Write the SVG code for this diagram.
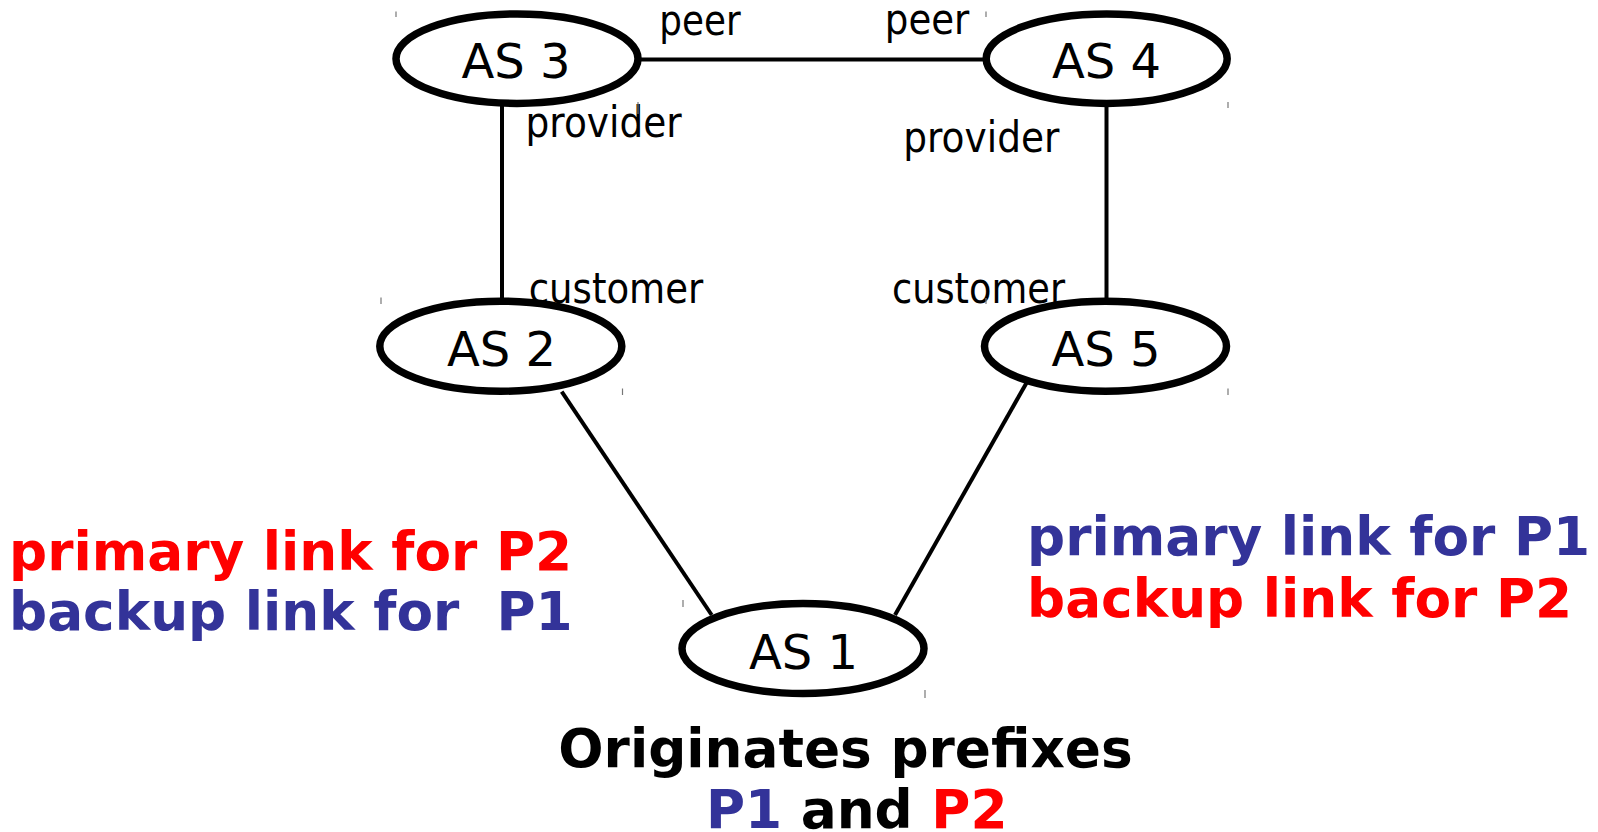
<svg xmlns="http://www.w3.org/2000/svg" width="1598" height="832" viewBox="0 0 1598 832">
  <style>
    .as { fill: #ffffff; stroke: #000000; stroke-width: 7.5; }
    .as-label { font-family: "DejaVu Sans", "Liberation Sans", sans-serif; font-size: 48px; fill: #000000; text-anchor: middle; }
    .role { font-family: "DejaVu Sans", "Liberation Sans", sans-serif; font-size: 43px; fill: #000000; }
    .tick { stroke: #777777; stroke-width: 1.2; }
    .link { stroke: #000000; stroke-width: 4; fill: none; }
    .note { font-family: "DejaVu Sans", "Liberation Sans", sans-serif; font-size: 53.3px; font-weight: bold; }
    .red { fill: #ff0000; }
    .blue { fill: #333399; }
    .black { fill: #000000; }
  </style>

  <!-- links between autonomous systems -->
  <g id="connectors">
    <line class="link" x1="641" y1="59.5" x2="983" y2="59.5"/>
    <line class="link" x1="502" y1="106" x2="502" y2="298"/>
    <line class="link" x1="1106.5" y1="106" x2="1106.5" y2="298"/>
    <line class="link" x1="561.7" y1="391.7" x2="711.7" y2="615"/>
    <line class="link" x1="1030" y1="376.7" x2="895" y2="615"/>
  </g>

  <!-- relationship labels on the links -->
  <g id="relationship-labels">
    <text class="role" x="659.3" y="34.5" textLength="81.4" lengthAdjust="spacingAndGlyphs">peer</text>
    <text class="role" x="884.8" y="33.5" textLength="84.6" lengthAdjust="spacingAndGlyphs">peer</text>
    <text class="role" x="525.5" y="137.3" textLength="156.3" lengthAdjust="spacingAndGlyphs">provider</text>
    <text class="role" x="903.2" y="151.5" textLength="156.3" lengthAdjust="spacingAndGlyphs">provider</text>
    <text class="role" x="528.7" y="303.3" textLength="174.6" lengthAdjust="spacingAndGlyphs">customer</text>
    <text class="role" x="892" y="302.7" textLength="173" lengthAdjust="spacingAndGlyphs">customer</text>
  </g>

  <g id="as3">
    <ellipse class="as" cx="517" cy="58.7" rx="121" ry="44.7"/>
    <text class="as-label" x="516" y="77.5">AS 3</text>
    <line class="tick" x1="396" y1="11.5" x2="396" y2="17"/>
    <line class="tick" x1="638" y1="102" x2="638" y2="114"/>
  </g>

  <g id="as4">
    <ellipse class="as" cx="1106.7" cy="58.7" rx="120.5" ry="44.7"/>
    <text class="as-label" x="1106.5" y="78">AS 4</text>
    <line class="tick" x1="986" y1="11.5" x2="986" y2="17"/>
    <line class="tick" x1="1228" y1="102" x2="1228" y2="108"/>
  </g>

  <g id="as2">
    <ellipse class="as" cx="500.8" cy="346.2" rx="121" ry="45"/>
    <text class="as-label" x="501.5" y="366">AS 2</text>
    <line class="tick" x1="381" y1="297.5" x2="381" y2="304"/>
    <line class="tick" x1="622.5" y1="388.5" x2="622.5" y2="395"/>
  </g>

  <g id="as5">
    <ellipse class="as" cx="1105.5" cy="346.2" rx="121" ry="45"/>
    <text class="as-label" x="1106" y="366">AS 5</text>
    <line class="tick" x1="986" y1="298" x2="986" y2="304"/>
    <line class="tick" x1="1228" y1="388.5" x2="1228" y2="395"/>
  </g>

  <g id="as1">
    <ellipse class="as" cx="803" cy="648.5" rx="121" ry="45"/>
    <text class="as-label" x="803.5" y="669.3">AS 1</text>
    <line class="tick" x1="683" y1="600" x2="683" y2="607"/>
    <line class="tick" x1="925" y1="690" x2="925" y2="698"/>
  </g>

  <!-- routing policy notes -->
  <g id="left-note" class="note">
    <text class="red" x="9" y="570">primary link for P2</text>
    <text class="blue" x="9" y="630" xml:space="preserve">backup link for  P1</text>
  </g>

  <g id="right-note" class="note">
    <text class="blue" x="1027" y="555">primary link for P1</text>
    <text class="red" x="1027" y="617">backup link for P2</text>
  </g>

  <g id="origin-note" class="note">
    <text class="black" x="558.3" y="766.7">Originates prefixes</text>
    <text x="706" y="828.3" xml:space="preserve"><tspan class="blue">P1</tspan><tspan class="black"> and </tspan><tspan class="red">P2</tspan></text>
  </g>
</svg>
